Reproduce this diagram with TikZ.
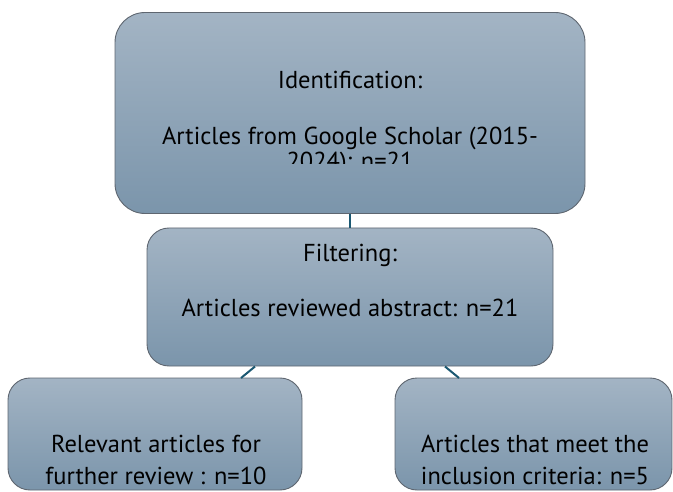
\documentclass[tikz,border=0pt]{standalone}
\usepackage{fontspec}
\setmainfont{PT Sans}
\definecolor{boxtop}{HTML}{A3B4C4}
\definecolor{boxbot}{HTML}{7B95AB}
\definecolor{boxline}{HTML}{5E6670}
\definecolor{conn}{HTML}{1B5872}
\tikzset{
  box/.style={draw=boxline, line width=0.9pt, top color=boxtop, bottom color=boxbot, inner sep=0pt},
  lbl/.style={font=\fontsize{24.5}{28}\selectfont, text=black, inner sep=0pt, anchor=base},
  link/.style={draw=conn, line width=2pt}
}
\begin{document}
\begin{tikzpicture}[x=1pt,y=-1pt]
\useasboundingbox (0,0) rectangle (673,492);
\node[box, rounded corners=30pt, minimum width=470pt, minimum height=201pt] (ident) at (350,113) {};
\node[box, rounded corners=22pt, minimum width=406pt, minimum height=138pt] (filt) at (350,297) {};
\node[box, rounded corners=22pt, minimum width=294pt, minimum height=112pt] (rel) at (155,434) {};
\node[box, rounded corners=22pt, minimum width=277pt, minimum height=112pt] (inc) at (533.5,434) {};
\draw[link] (ident.south) -- (filt.north);
\draw[link] (255,366.5) coordinate (fl) -- (241,378) coordinate (rl);
\draw[link] (445,366.5) coordinate (fr) -- (459,378) coordinate (rr);
\node[lbl] (t1) at (350,88.5) {Identification:};
\node[lbl] (t2) at (350,145) {Articles from Google Scholar (2015-};
\begin{scope}
\clip (150,140) rectangle (550,164);
\node[lbl] (t3) at (350,169.5) {2024): n=21};
\end{scope}
\node[lbl] (t4) at (350,261.5) {Filtering:};
\node[lbl] (t5) at (350,316.5) {Articles reviewed abstract: n=21};
\node[lbl] (t6) at (156,452.5) {Relevant articles for};
\node[lbl] (t7) at (156,484.5) {further review : n=10};
\node[lbl] (t8) at (535,452.5) {Articles that meet the};
\node[lbl] (t9) at (535,484.5) {inclusion criteria: n=5};
\end{tikzpicture}
\end{document}
